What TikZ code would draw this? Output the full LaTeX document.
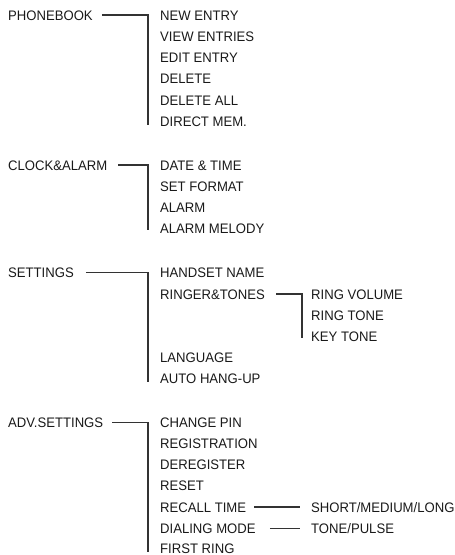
\documentclass[tikz,border=0pt]{standalone}
\usepackage{fontspec}
\setmainfont[FakeStretch=0.95]{Liberation Sans}
\usetikzlibrary{positioning}

\tikzset{
  menu/.style={anchor=base west,inner sep=0pt,text=black!90,font=\fontsize{13.8}{16}\selectfont},
  link/.style={draw=black!80,line width=1.2pt}
}

\begin{document}
\begin{tikzpicture}[x=1pt,y=-1pt]
\useasboundingbox (0,0) rectangle (455,555);

% phonebook
\node[menu] (pb) at (8,20) {PHONEBOOK};
\node[menu] (pb1) at (160,20) {NEW ENTRY};
\node[menu] (pb2) at (160,41.3) {VIEW ENTRIES};
\node[menu] (pb3) at (160,62.6) {EDIT ENTRY};
\node[menu] (pb4) at (160,83.9) {DELETE};
\node[menu] (pb5) at (160,105.2) {DELETE ALL};
\node[menu] (pb6) at (160,126.5) {DIRECT MEM.};
\coordinate (pbtop) at (148,15);
\coordinate (pbend) at (148,125);
\draw[link] ([xshift=9pt]pb.east |- pbtop) -- (pbtop) -- (pbend);

% clock and alarm
\node[menu] (ca) at (8,170) {CLOCK\&ALARM};
\node[menu] (ca1) at (160,170) {DATE \& TIME};
\node[menu] (ca2) at (160,191.3) {SET FORMAT};
\node[menu] (ca3) at (160,212.6) {ALARM};
\node[menu] (ca4) at (160,233.9) {ALARM MELODY};
\coordinate (catop) at (148,165);
\coordinate (caend) at (148,229.5);
\draw[link] ([xshift=11pt]ca.east |- catop) -- (catop) -- (caend);

% settings
\node[menu] (st) at (8,277.7) {SETTINGS};
\node[menu] (st1) at (160,277.7) {HANDSET NAME};
\node[menu] (st2) at (160,299) {RINGER\&TONES};
\node[menu] (st3) at (160,362.3) {LANGUAGE};
\node[menu] (st4) at (160,383.5) {AUTO HANG-UP};
\coordinate (sttop) at (148,272.7);
\coordinate (stend) at (148,381.7);
\draw[link] ([xshift=12pt]st.east |- sttop) -- (sttop) -- (stend);

\node[menu] (rt1) at (311,299) {RING VOLUME};
\node[menu] (rt2) at (311,320.2) {RING TONE};
\node[menu] (rt3) at (311,341.5) {KEY TONE};
\coordinate (rttop) at (302,294);
\coordinate (rtend) at (302,338.3);
\draw[link] ([xshift=11pt]st2.east |- rttop) -- (rttop) -- (rtend);

% advanced settings
\node[menu] (as) at (8,427.3) {ADV.SETTINGS};
\node[menu] (as1) at (160,427.3) {CHANGE PIN};
\node[menu] (as2) at (160,448.5) {REGISTRATION};
\node[menu] (as3) at (160,469.6) {DEREGISTER};
\node[menu] (as4) at (160,490.8) {RESET};
\node[menu] (as5) at (160,512) {RECALL TIME};
\node[menu] (as6) at (160,533.2) {DIALING MODE};
\node[menu] (as7) at (160,553.6) {FIRST RING};
\coordinate (astop) at (148,422.3);
\coordinate (asend) at (148,551.7);
\draw[link] ([xshift=9pt]as.east |- astop) -- (astop) -- (asend);

\node[menu] (rc) at (311,512) {SHORT/MEDIUM/LONG};
\node[menu] (dm) at (311,533.2) {TONE/PULSE};
\draw[link] ([xshift=8pt]as5.east |- rc.west) -- ([xshift=-11pt]rc.west);
\draw[link] ([xshift=14pt]as6.east |- dm.west) -- ([xshift=-11pt]dm.west);
\end{tikzpicture}
\end{document}
